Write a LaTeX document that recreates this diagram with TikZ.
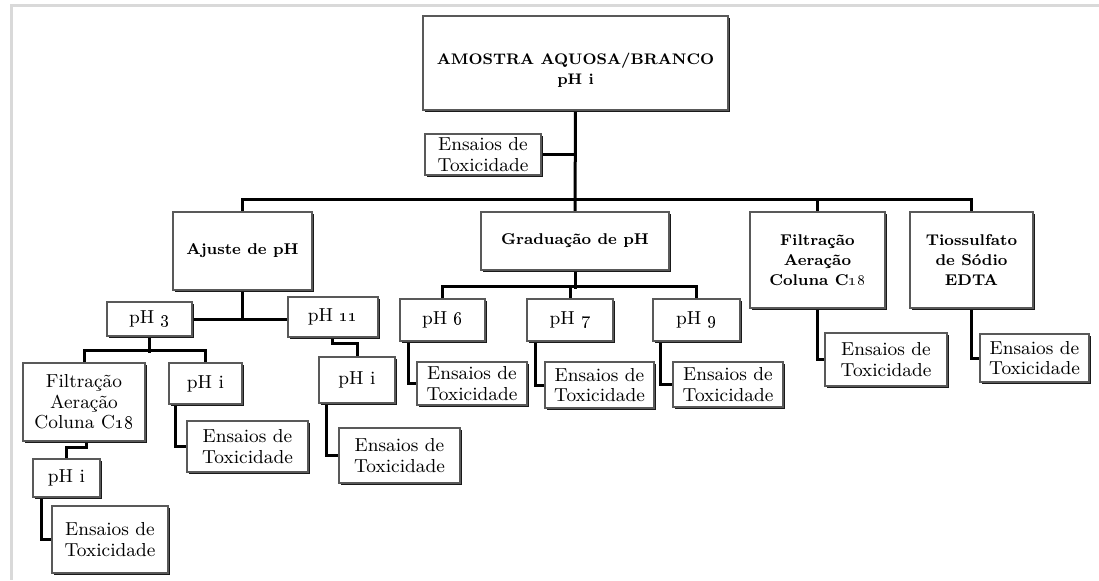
\documentclass[tikz,border=0pt]{standalone}
\usetikzlibrary{shadows,backgrounds}
\tikzset{
  box/.style={draw=black!65, line width=0.6pt, fill=white, inner sep=0pt, align=center,
    drop shadow={shadow xshift=0.75pt, shadow yshift=-0.75pt, fill=black!90, opacity=1}},
  regtxt/.style={font=\fontsize{9.4}{10.25}\selectfont},
  boldtxt/.style={font=\fontsize{7.8}{10}\selectfont\bfseries},
  titletxt/.style={font=\fontsize{7.65}{10}\selectfont\bfseries, inner sep=0pt, align=center},
  conn/.style={line width=1.5pt, black, line cap=rect, line join=miter},
  frame/.style={line width=1.5pt, black!15}
}
\newcommand{\mybox}[7]{%
  \node[box,#7, minimum width={(#4-#2)/2}, minimum height={(#5-#3)/2}] (#1) at ({(#2+#4)/2},{(#3+#5)/2}) {#6};}
\begin{document}
\begin{tikzpicture}[x=0.5pt,y=-0.5pt]
\useasboundingbox (0,0) rectangle (1099,580);
% top
\mybox{top}{423}{16}{728}{110}{}{}
\node[titletxt] (toptxt) at (575.5,70) {AMOSTRA AQUOSA/BRANCO\\pH i};
\mybox{e0}{425}{134}{541}{175}{Ensaios de\\Toxicidade}{regtxt}
% second level
\mybox{ajuste}{173}{212}{312}{290}{Ajuste de pH}{boldtxt}
\mybox{grad}{481}{212}{669}{270}{Graduação de pH}{boldtxt}
\mybox{filt}{750}{212}{885}{308}{Filtração\\Aeração\\Coluna C\oldstylenums{18}}{boldtxt}
\mybox{tio}{910}{212}{1033}{308}{Tiossulfato\\de Sódio\\EDTA}{boldtxt}
% ajuste branch
\mybox{ph3}{107}{302}{192}{336}{pH \oldstylenums{3}}{regtxt}
\mybox{ph11}{288}{297}{378}{337}{pH \oldstylenums{11}}{regtxt}
\mybox{filtL}{23}{363}{145}{441}{Filtração\\Aeração\\Coluna C\oldstylenums{18}}{regtxt}
\mybox{phiA}{169}{363}{242}{404}{pH i}{regtxt}
\mybox{phiB}{319}{357}{395}{403}{pH i}{regtxt}
\mybox{phiC}{33}{459}{100}{497}{pH i}{regtxt}
\mybox{eC}{52}{506}{168}{573}{Ensaios de\\Toxicidade}{regtxt}
\mybox{eA}{187}{421}{308}{472}{Ensaios de\\Toxicidade}{regtxt}
\mybox{eB}{339}{428}{460}{483}{Ensaios de\\Toxicidade}{regtxt}
% graduacao branch
\mybox{ph6}{400}{299}{485}{341}{pH \oldstylenums{6}}{regtxt}
\mybox{ph7}{527}{299}{613}{341}{pH \oldstylenums{7}}{regtxt}
\mybox{ph9}{653}{299}{740}{341}{pH \oldstylenums{9}}{regtxt}
\mybox{e6}{417}{362}{527}{405}{Ensaios de\\Toxicidade}{regtxt}
\mybox{e7}{545}{362}{654}{408}{Ensaios de\\Toxicidade}{regtxt}
\mybox{e9}{673}{362}{783}{407}{Ensaios de\\Toxicidade}{regtxt}
% right branches
\mybox{eF}{825}{333}{947}{386}{Ensaios de\\Toxicidade}{regtxt}
\mybox{eT}{980}{334}{1089}{382}{Ensaios de\\Toxicidade}{regtxt}

\begin{pgfonlayer}{background}
  \coordinate (fTL) at (11,5.5);
  \coordinate (fTR) at (1099,5.5);
  \coordinate (fBL) at (11,580);
  \draw[frame] (fTR) -- (fTL) -- (fBL);
  % main trunk and bus
  \draw[conn] (top.south) -- (grad.north);
  \draw[conn] (e0.east) -- (e0.east -| top.south);
  \draw[conn] (ajuste.north) -- ++(0,-12) -| (tio.north);
  \draw[conn] (filt.north) -- ++(0,-12);
  % ajuste
  \draw[conn] (ajuste.south) -- (ajuste.south |- ph3.east);
  \draw[conn] (ph3.east) -- (ph3.east -| ph11.west);
  \draw[conn] (ph3.south) -- ++(0,15);
  \draw[conn] (filtL.north) -- ++(0,-12) -| (phiA.north);
  \draw[conn] ([xshift=-0.5pt]ph11.south) -- ++(0,6) -| (phiB.north);
  \draw[conn] ([xshift=1pt]filtL.south) -- ++(0,6) -| (phiC.north);
  \draw[conn] ([xshift=4.5pt]phiC.south west) |- (eC.west);
  \draw[conn] ([xshift=3.5pt]phiA.south west) |- (eA.west);
  \draw[conn] ([xshift=4pt]phiB.south west) |- (eB.west);
  % graduacao
  \draw[conn] (grad.south) -- ++(0,17);
  \draw[conn] (ph6.north) -- ++(0,-12) -| (ph9.north);
  \draw[conn] (ph7.north) -- ++(0,-12);
  \draw[conn] ([xshift=4.5pt]ph6.south west) |- (e6.west);
  \draw[conn] ([xshift=4.5pt]ph7.south west) |- (e7.west);
  \draw[conn] ([xshift=4pt]ph9.south west) |- (e9.west);
  % right
  \draw[conn] (filt.south) |- (eF.west);
  \draw[conn] (tio.south) |- (eT.west);
\end{pgfonlayer}
\end{tikzpicture}
\end{document}
